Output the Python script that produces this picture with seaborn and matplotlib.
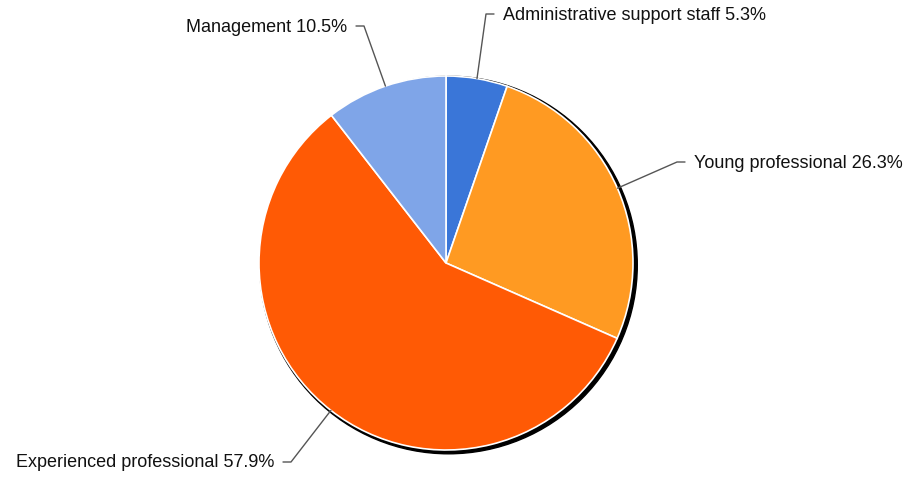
import matplotlib
matplotlib.use("Agg")
import matplotlib.pyplot as plt
import seaborn as sns
import numpy as np
from matplotlib.patches import Circle

# Datos
categorias = ["Administrative support staff", "Young professional",
              "Experienced professional", "Management"]
porcentajes = [5.3, 26.3, 57.9, 10.5]
colores = ["#3a76d8", "#ff9a22", "#ff5a05", "#7fa5e8"]

sns.set_style("white")
plt.rcParams["font.family"] = ["Liberation Sans", "DejaVu Sans"]

W, H = 905, 481
fig = plt.figure(figsize=(W / 100, H / 100), dpi=100)
ax = fig.add_axes([0, 0, 1, 1])

cx, cy, r = 446, H - 264, 187

# sombra
ax.add_patch(Circle((cx + 2.5, cy - 2), r + 1.8, color="black", zorder=0))

wedges, _ = ax.pie(porcentajes, colors=colores, startangle=90, counterclock=False,
                   center=(cx, cy), radius=r, frame=True,
                   wedgeprops={"edgecolor": "white", "linewidth": 1.2})
for w in wedges:
    w.set_zorder(1)
ax.set_xlim(0, W)
ax.set_ylim(0, H)
ax.set_aspect("equal")
ax.axis("off")

# posiciones de las etiquetas (codo, lado)
codos = [(486, H - 15), (677, H - 163), (291, H - 463), (364, H - 27)]
lados = [1, 1, -1, -1]

for w, cat, p, (ex, ey), lado in zip(wedges, categorias, porcentajes, codos, lados):
    ang = np.deg2rad((w.theta1 + w.theta2) / 2)
    px, py = cx + r * np.cos(ang), cy + r * np.sin(ang)
    hx = ex + 8 * lado
    ax.plot([px, ex, hx], [py, ey, ey], color="#555555", lw=1, zorder=2)
    ax.text(hx + 9 * lado, ey, f"{cat} {p}%", fontsize=13, color="#111111",
            ha="left" if lado > 0 else "right", va="center")

plt.savefig("out.png", dpi=100)
plt.close()
